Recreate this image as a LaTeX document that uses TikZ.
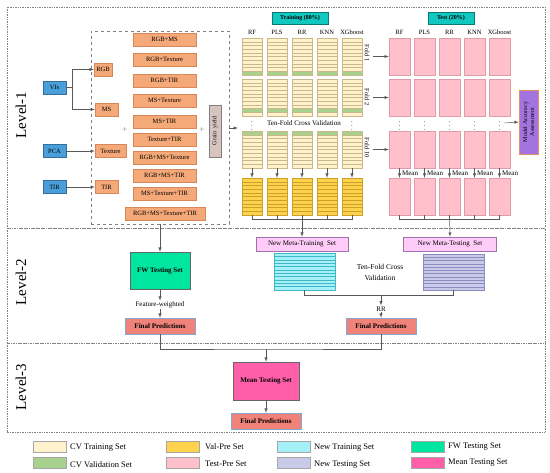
\documentclass[tikz,border=0pt]{standalone}
\usepackage{fontspec}
\setmainfont{Liberation Serif}
\usetikzlibrary{arrows,calc,positioning}

\definecolor{cvtrain}{HTML}{FFF2CC}
\definecolor{cvline}{HTML}{C8B88A}
\definecolor{cvval}{HTML}{A9D18E}
\definecolor{valpre}{HTML}{FFD24D}
\definecolor{valline}{HTML}{C9A227}
\definecolor{testpre}{HTML}{FFC0CB}
\definecolor{testline}{HTML}{E09AA8}
\definecolor{newtr}{HTML}{A6F0F8}
\definecolor{newtrline}{HTML}{40B8C8}
\definecolor{newte}{HTML}{C8CAE8}
\definecolor{newteline}{HTML}{8C8CC0}
\definecolor{fwset}{HTML}{00E6A0}
\definecolor{meanset}{HTML}{FF5FA8}
\definecolor{finalp}{HTML}{F0827A}
\definecolor{finalline}{HTML}{80A8D0}
\definecolor{metafill}{HTML}{FFCCFA}
\definecolor{metaline}{HTML}{A070B0}
\definecolor{hdrteal}{HTML}{10C8C0}
\definecolor{visblue}{HTML}{4A9FDB}
\definecolor{featfill}{HTML}{F5A878}
\definecolor{featline}{HTML}{D88858}
\definecolor{grainfill}{HTML}{D8C4BE}
\definecolor{modelfill}{HTML}{A374E0}
\definecolor{modelline}{HTML}{E89060}
\definecolor{lvlline}{HTML}{808080}

% stripes and validation row inside a column
\newcommand\stripelines[2]{\foreach \k in {1,...,#1}{\draw[#2, line width=0.35pt]
  ($(path picture bounding box.north west)!{\k/(#1+1)}!(path picture bounding box.south west)$) --
  ($(path picture bounding box.north east)!{\k/(#1+1)}!(path picture bounding box.south east)$);}}
\newcommand\valrow[1]{\fill[cvval]
  ($(path picture bounding box.north west)!{(#1-1)/10}!(path picture bounding box.south west)$) rectangle
  ($(path picture bounding box.north east)!{#1/10}!(path picture bounding box.south east)$);}

\tikzset{
  lvlbox/.style={draw=lvlline, densely dotted, line width=0.7pt},
  conn/.style={draw=black!65, line width=0.5pt},
  small/.style={font=\fontsize{6.5}{7.5}\selectfont},
  dotlab/.style={inner sep=0pt, font=\fontsize{6.5}{7.5}\selectfont},
  bluebox/.style={draw=visblue!70!black, fill=visblue, minimum width=23pt, minimum height=13pt, inner sep=0pt, small},
  featbox/.style={draw=featline, fill=featfill, minimum height=13pt, inner sep=0pt, small},
  combo/.style={featbox, minimum width=63pt},
  hdrbox/.style={draw=hdrteal!60!black, fill=hdrteal, minimum height=12pt, inner sep=0pt, font=\bfseries\fontsize{6}{7}\selectfont},
  trcol/.style={draw=cvline, fill=cvtrain, minimum width=20pt, minimum height=37pt, inner sep=0pt,
    path picture={\valrow{#1}\stripelines{9}{cvline}}},
  vpcol/.style={draw=valline, fill=valpre, minimum width=20pt, minimum height=37pt, inner sep=0pt,
    path picture={\stripelines{9}{valline}}},
  tecol/.style={draw=testline, fill=testpre, minimum width=21pt, minimum height=37pt, inner sep=0pt},
  setbox/.style={draw=black!60, minimum height=37pt, inner sep=0pt, font=\bfseries\fontsize{7}{8}\selectfont},
  finalbox/.style={draw=finalline, fill=finalp, minimum width=70pt, minimum height=16pt, inner sep=0pt, font=\bfseries\fontsize{7}{8}\selectfont},
  metabox/.style={draw=metaline, fill=metafill, minimum height=14pt, inner sep=0pt, font=\fontsize{7}{8}\selectfont},
  lvllab/.style={rotate=90, font=\fontsize{15}{16}\selectfont},
  swatch/.style={draw=black!35, minimum width=33pt, minimum height=11pt, inner sep=0pt},
  leglab/.style={anchor=west, inner sep=0pt, font=\fontsize{8.5}{9}\selectfont}
}

\begin{document}
\begin{tikzpicture}[x=1pt,y=-1pt]
\useasboundingbox (0,0) rectangle (550,473);

% levels
\draw[lvlbox] (7,7) rectangle (545,228);
\draw[lvlbox] (7,228) rectangle (545,343);
\draw[lvlbox] (7,343) rectangle (545,432);
\node[lvllab] (lv1) at (21,115) {Level-1};
\node[lvllab] (lv2) at (21,282) {Level-2};
\node[lvllab] (lv3) at (21,387) {Level-3};

% inputs
\node[bluebox] (vis) at (54.5,87.5) {VIs};
\node[bluebox] (pca) at (54.5,151) {PCA};
\node[bluebox] (tirin) at (54.5,187) {TIR};

\node[draw=gray, dashed, minimum width=138pt, minimum height=193pt] (feat) at (160,127.5) {};

\node[featbox, minimum width=18pt] (rgb) at (103,69.5) {RGB};
\node[featbox, minimum width=23pt] (ms) at (106.5,109.5) {MS};
\node[featbox, minimum width=31pt] (tex) at (110.5,151) {Texture};
\node[featbox, minimum width=23pt] (tir) at (106.5,187) {TIR};

\coordinate (vjoin) at (72,87.5);
\draw[conn] (vis.east) -- (vjoin);
\draw[conn,-latex] (vjoin) |- (rgb.west);
\draw[conn,-latex] (vjoin) |- (ms.west);
\draw[conn,-latex] (pca.east) -- (tex.west);
\draw[conn,-latex] (tirin.east) -- (tir.west);

% combinations
\node[combo] (c1) at (164.5,39.5) {RGB+MS};
\node[combo] (c2) at (164.5,59.5) {RGB+Texture};
\node[combo] (c3) at (164.5,80.5) {RGB+TIR};
\node[combo] (c4) at (164.5,100.5) {MS+Texture};
\node[combo] (c5) at (164.5,121.5) {MS+TIR};
\node[combo] (c6) at (164.5,139.5) {Texture+TIR};
\node[combo] (c7) at (164.5,157.5) {RGB+MS+Texture};
\node[combo] (c8) at (164.5,175.5) {RGB+MS+TIR};
\node[combo] (c9) at (164.5,193.5) {MS+Texture+TIR};
\node[combo, minimum width=80pt] (c10) at (165,213.5) {RGB+MS+Texture+TIR};
\node[text=gray, font=\fontsize{9}{9}\selectfont] (plus1) at (125,130) {+};
\node[text=gray, font=\fontsize{9}{9}\selectfont] (plus2) at (202,130) {+};
\node[draw=gray, fill=grainfill, rotate=90, minimum width=52pt, minimum height=12pt, inner sep=0pt,
      font=\fontsize{6}{7}\selectfont] (grain) at (215,131) {Grain\ \ yield};
\coordinate (foldin) at (238,128);
\draw[conn,-latex] (feat.east |- foldin) -- (foldin);

% training and test blocks
\node[hdrbox, minimum width=56pt] (train) at (300,18) {Training (80\%)};
\node[hdrbox, minimum width=46pt] (test) at (451,18) {Test (20\%)};

\foreach \m [count=\i] in {RF,PLS,RR,KNN,XGboost}{
  \node[small] (htr-\i) at (227+25*\i,32) {\m};
  \node[small] (hte-\i) at (374.5+25*\i,32) {\m};
}
\foreach \f/\y/\g in {1/56.5/10,2/97.5/9,10/149.5/1}{
  \foreach \i in {1,...,5}{
    \node[trcol=\g] (tr-\i-\f) at (227+25*\i,\y) {};
    \node[tecol] (te-\i-\f) at (374.5+25*\i,\y) {};
  }
}
\foreach \i in {1,...,5}{
  \node[vpcol] (vp-\i) at (227+25*\i,196.5) {};
  \node[tecol] (tm-\i) at (374.5+25*\i,196.5) {};
  \draw[conn,-latex] (tr-\i-10.south) -- (vp-\i.north);
  \draw[conn,-latex] (te-\i-10.south) -- node[right=-1pt, font=\fontsize{7}{8}\selectfont] {Mean} (tm-\i.north);
  \node[dotlab] (tdot-\i) at (374.5+25*\i,123) {$\vdots$};
}
\node[dotlab] (trdot-1) at (252,123) {$\vdots$};
\node[inner sep=0pt, font=\fontsize{7}{8}\selectfont] (tfcv) at (304,123) {Ten-Fold Cross Validation};
\node[dotlab] (trdot-5) at (352,123) {$\vdots$};

\node[small, rotate=-90] (fl-1) at (367,53) {Fold 1};
\node[small, rotate=-90] (fl-2) at (367,97) {Fold 2};
\node[small, rotate=-90] (fl-10) at (367,148) {Fold 10};
\draw[conn,-latex] (fl-1.north |- te-1-1) -- (te-1-1.west);
\draw[conn,-latex] (fl-2.north |- te-1-2) -- (te-1-2.west);
\draw[conn,-latex] (fl-10.north |- te-1-10) -- (te-1-10.west);

\node[draw=modelline, fill=modelfill, rotate=90, minimum width=64pt, minimum height=19pt, inner sep=0pt,
      align=center, font=\fontsize{6}{7}\selectfont] (model) at (528.5,122) {Model Accuracy\\Assessment};
\draw[conn,-latex] ($(tdot-5.east)+(4,0)$) -- (model.north);

% brackets to level 2
\draw[conn] (vp-1.south) -- ++(0,4) -| (vp-5.south);
\draw[conn] (tm-1.south) -- ++(0,4) -| (tm-5.south);
\foreach \i in {2,3,4}{
  \draw[conn] (vp-\i.south) -- ++(0,4);
  \draw[conn] (tm-\i.south) -- ++(0,4);
}

% level 2
\node[setbox, fill=fwset, minimum width=60pt] (fw) at (160,270.5) {FW Testing Set};
\draw[conn,-latex] (feat.south) -- (fw.north);
\node[font=\fontsize{7}{8}\selectfont, inner sep=1pt] (fwlab) at (160,305) {Feature-weighted};
\node[finalbox] (fp1) at (160,326) {Final Predictions};
\draw[conn,-latex] (fw.south) -- (fwlab.north);
\draw[conn,-latex] (fwlab.south) -- (fp1.north);

\node[metabox, minimum width=92pt] (metatr) at (302,244) {New Meta-Training\ \ Set};
\node[metabox, minimum width=93pt] (metate) at (450,244) {New Meta-Testing\ \ Set};
\draw[conn,-latex] (vp-3.south) -- (metatr.north);
\draw[conn,-latex] (tm-3.south) -- (metate.north);

\node[draw=newtrline, fill=newtr, minimum width=61pt, minimum height=37pt, inner sep=0pt,
      path picture={\stripelines{10}{newtrline}}] (newtr) at (304.5,271.5) {};
\node[draw=newteline, fill=newte, minimum width=61pt, minimum height=36pt, inner sep=0pt,
      path picture={\stripelines{10}{newteline}}] (newte) at (453.5,272) {};
\node[align=center, font=\fontsize{7.5}{11}\selectfont] (tfcv2) at (380,272) {Ten-Fold Cross\\Validation};

\coordinate (rrjoin) at (381,295);
\draw[conn] (newtr.south) -- ++(0,5) -| (newte.south);
\node[font=\fontsize{7}{8}\selectfont, inner sep=1pt] (rrlab) at (381,309) {RR};
\node[finalbox] (fp2) at (381,326) {Final Predictions};
\draw[conn,-latex] (rrjoin) -- (rrlab.north);
\draw[conn,-latex] (rrlab.south) -- (fp2.north);

% level 3
\coordinate (mjoin) at (266,349);
\node[setbox, fill=meanset, minimum width=66pt, minimum height=38pt] (mean) at (266,381) {Mean Testing Set};
\node[finalbox] (fp3) at (266,421) {Final Predictions};
\draw[conn] (fp1.south) |- (mjoin) -| (fp2.south);
\draw[conn,-latex] (mjoin) -- (mean.north);
\draw[conn,-latex] (mean.south) -- (fp3.north);

% legend
\node[swatch, fill=cvtrain] (lg1) at (49.5,446.5) {};
\node[leglab] (lt1) at (70,448) {CV Training Set};
\node[swatch, fill=cvval] (lg2) at (49.5,462.5) {};
\node[leglab] (lt2) at (70,465) {CV Validation Set};
\node[swatch, fill=valpre] (lg3) at (183,446.5) {};
\node[leglab] (lt3) at (205,447) {Val-Pre Set};
\node[swatch, fill=testpre] (lg4) at (183,462.5) {};
\node[leglab] (lt4) at (205,464) {Test-Pre Set};
\node[swatch, fill=newtr] (lg5) at (293.5,446.5) {};
\node[leglab] (lt5) at (314,448) {New Training Set};
\node[swatch, fill=newte] (lg6) at (293.5,462.5) {};
\node[leglab] (lt6) at (314,465) {New Testing Set};
\node[swatch, fill=fwset] (lg7) at (427.5,446.5) {};
\node[leglab] (lt7) at (448,447) {FW Testing Set};
\node[swatch, fill=meanset] (lg8) at (427.5,462.5) {};
\node[leglab] (lt8) at (448,463) {Mean Testing Set};
\end{tikzpicture}
\end{document}
